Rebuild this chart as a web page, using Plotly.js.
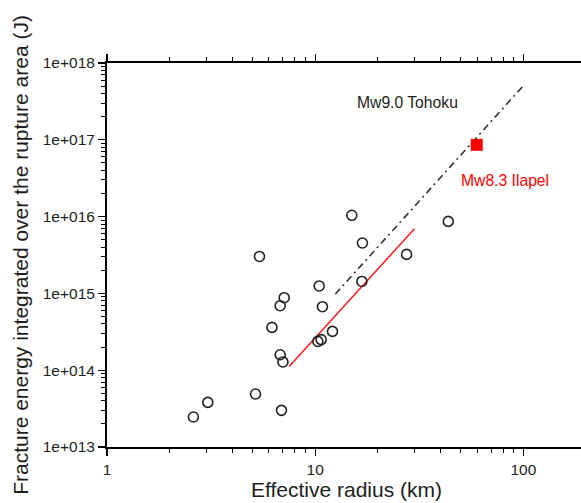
<!DOCTYPE html>
<html>
<head>
<meta charset="utf-8">
<script src="https://cdn.plot.ly/plotly-3.0.1.min.js"></script>
<style>
html,body{margin:0;padding:0;overflow:hidden;background:#fff;width:581px;height:503px;}
#wrap{width:581px;height:503px;overflow:hidden;position:relative;}
#chart{width:620px;height:503px;position:absolute;left:0;top:0;}
</style>
</head>
<body>
<div id="wrap"><div id="chart"></div></div>
<script>
// Effective radius (km) of events (open circles)
const radiusKm = [2.60, 3.05, 5.17, 6.89, 6.79, 7.00, 6.20, 6.79, 7.10, 5.40,
                  10.45, 10.84, 10.30, 10.69, 12.11, 15.0, 16.87, 16.76, 27.5, 43.6];
// Fracture energy (J)
const fractureEnergy = [2.46e13, 3.81e13, 4.90e13, 3.0e13, 1.59e14, 1.28e14, 3.61e14, 6.92e14, 8.79e14, 3.03e15,
                        1.25e15, 6.71e14, 2.37e14, 2.50e14, 3.20e14, 1.04e16, 4.53e15, 1.43e15, 3.22e15, 8.66e15];
// Ilapel event
const ilapelRadius = [59.7];
const ilapelEnergy = [8.6e16];
// Tohoku scaling line (dash-dot)
const tohokuLineX = [12.5, 100];
const tohokuLineY = [9.8e14, 5.06e17];
// Red scaling line
const redLineX = [7.5, 30];
const redLineY = [1.12e14, 6.95e15];
// Tick labels
const xTickVals = [1, 10, 100];
const xTickText = ['1', '10', '100'];
const yTickVals = [1e13, 1e14, 1e15, 1e16, 1e17, 1e18];
const yTickText = ['1e+013', '1e+014', '1e+015', '1e+016', '1e+017', '1e+018'];

const font = 'Liberation Sans, Arial, Helvetica, sans-serif';
const txt = '#1e1e1e';

const traces = [
  {x: redLineX, y: redLineY, mode: 'lines', line: {color: '#ff1a1a', width: 1.5}, hoverinfo: 'skip'},
  {x: tohokuLineX, y: tohokuLineY, mode: 'lines', line: {color: '#333333', width: 1.6, dash: '7px,4px,2px,4px'}, hoverinfo: 'skip'},
  {x: radiusKm, y: fractureEnergy, mode: 'markers',
   marker: {symbol: 'circle-open', size: 10, color: '#222222', line: {width: 1.6, color: '#222222'}}},
  {x: ilapelRadius, y: ilapelEnergy, mode: 'markers',
   marker: {symbol: 'square', size: 12, color: '#ff0000', line: {width: 0}}},
  {x: xTickVals, y: [1e13, 1e13, 1e13], xaxis: 'x2', mode: 'markers', marker: {opacity: 0}, hoverinfo: 'skip'}
];

const minorTicks = {ticks: 'outside', ticklen: 4, tickwidth: 1, tickcolor: '#000', dtick: 'D1', showgrid: false};
// plot spans 1 .. 200 km, right end beyond the visible window (as in the reference)
const xRange = [0, Math.log10(200)];

const layout = {
  width: 620, height: 503,
  margin: {l: 107, r: 34, t: 63, b: 56, pad: 0},
  paper_bgcolor: '#ffffff', plot_bgcolor: '#ffffff',
  showlegend: false,
  font: {family: font, color: txt, size: 15.5},
  xaxis: {
    type: 'log', range: xRange,
    tickvals: xTickVals, ticktext: xTickText,
    ticks: 'outside', ticklen: 7, tickwidth: 1.2, tickcolor: '#000',
    minor: minorTicks,
    showline: true, linewidth: 2, linecolor: '#000', mirror: false,
    showgrid: false, zeroline: false,
    tickfont: {family: font, size: 15.5, color: txt},
    title: {text: 'Effective radius (km)', font: {family: font, size: 21, color: txt}, standoff: 6}
  },
  xaxis2: {
    type: 'log', range: xRange, overlaying: 'x', side: 'top',
    tickvals: xTickVals, showticklabels: false,
    ticks: 'outside', ticklen: 7, tickwidth: 1.2, tickcolor: '#000',
    minor: minorTicks,
    showline: true, linewidth: 2, linecolor: '#000',
    showgrid: false, zeroline: false
  },
  yaxis: {
    type: 'log', range: [13, 18],
    tickvals: yTickVals, ticktext: yTickText,
    ticks: 'outside', ticklen: 7, tickwidth: 1.2, tickcolor: '#000',
    minor: minorTicks,
    showline: true, linewidth: 2, linecolor: '#000', mirror: false,
    showgrid: false, zeroline: false,
    tickfont: {family: font, size: 15.5, color: txt},
    title: {text: 'Fracture energy integrated over the rupture area (J)', font: {family: font, size: 21, color: txt}, standoff: 8}
  },
  annotations: [
    {x: Math.log10(27.8), y: Math.log10(3.04e17), xref: 'x', yref: 'y', text: 'Mw9.0 Tohoku', showarrow: false,
     font: {family: font, size: 15.7, color: txt}},
    {x: Math.log10(81.7), y: Math.log10(2.96e16), xref: 'x', yref: 'y', text: 'Mw8.3 Ilapel', showarrow: false,
     font: {family: font, size: 15.7, color: '#ff0000'}}
  ]
};

Plotly.newPlot('chart', traces, layout, {displayModeBar: false, staticPlot: true});
</script>
</body>
</html>
